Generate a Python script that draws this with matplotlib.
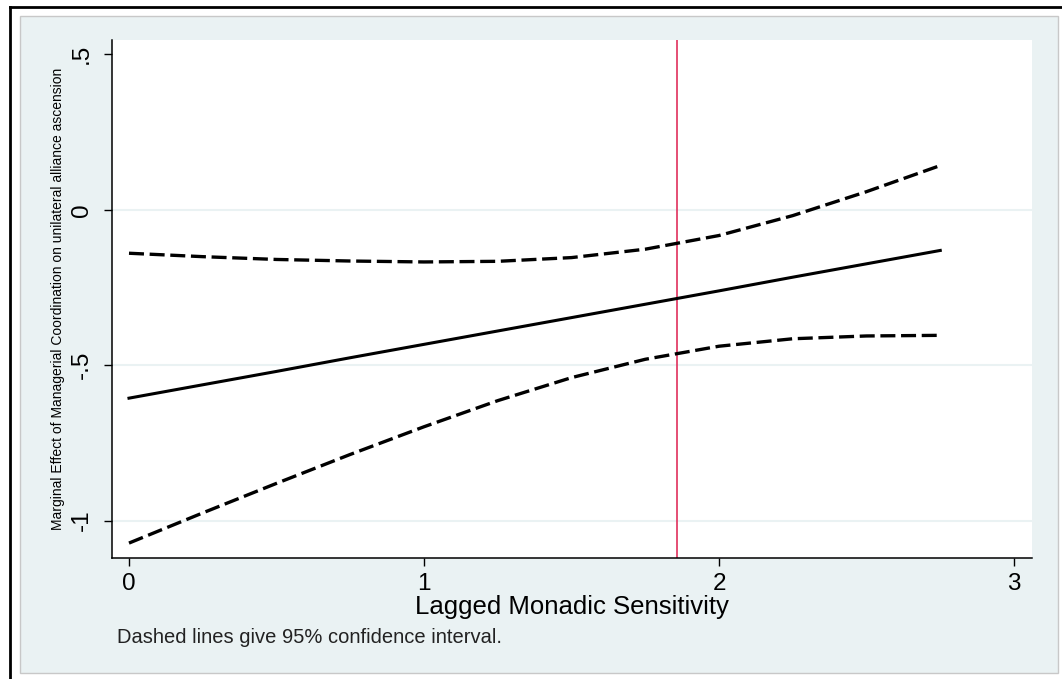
import matplotlib
matplotlib.use("Agg")
import matplotlib.pyplot as plt
from matplotlib.patches import Rectangle
from matplotlib.lines import Line2D

plt.rcParams['font.family'] = ['Liberation Sans', 'DejaVu Sans']

# values
sensitivity = [0, 0.25, 0.5, 0.75, 1.0, 1.25, 1.5, 1.75, 2.0, 2.25, 2.5, 2.75]
effect = [-0.606, -0.563, -0.520, -0.476, -0.433, -0.390, -0.347, -0.304, -0.261, -0.217, -0.174, -0.131]
upper_ci = [-0.140, -0.151, -0.160, -0.165, -0.168, -0.166, -0.154, -0.127, -0.083, -0.019, 0.058, 0.142]
lower_ci = [-1.072, -0.975, -0.880, -0.787, -0.698, -0.614, -0.540, -0.481, -0.439, -0.415, -0.406, -0.404]
mean_sensitivity = 1.858

xticks = [0, 1, 2, 3]
yticks = [0.5, 0, -0.5, -1]
ytick_labels = [".5", "0", "-.5", "-1"]

W, H = 1062, 679
bg = "#EAF2F3"

fig = plt.figure(figsize=(W / 100, H / 100), dpi=100)
fig.patch.set_facecolor("white")

# outer black frame (top and left visible)
fig.add_artist(Line2D([10 / W, 1], [1 - 7 / H, 1 - 7 / H], color="black", lw=2, zorder=-10))
fig.add_artist(Line2D([10 / W, 10 / W], [0, 1 - 7 / H], color="black", lw=2, zorder=-10))
# light stata-style background
fig.add_artist(Rectangle((20 / W, 1 - 673 / H), 1038 / W, 657 / H,
                         facecolor=bg, edgecolor="#C8C8C8", lw=1, zorder=-10))

ax = fig.add_axes([112 / W, 1 - 558 / H, 920 / W, 518 / H])
ax.set_facecolor("white")

for y in [0, -0.5, -1]:
    ax.axhline(y, color=bg, lw=1.5, zorder=1)

ax.plot(sensitivity, effect, color="black", lw=2.2, zorder=3)
ax.plot(sensitivity, upper_ci, color="black", lw=2.4, dashes=(4.5, 1.7), zorder=3)
ax.plot(sensitivity, lower_ci, color="black", lw=2.4, dashes=(4.5, 1.7), zorder=3)
ax.axvline(mean_sensitivity, color="#E0305C", lw=1.2, zorder=2)

ax.set_xlim(-0.0576, 3.061)
ax.set_ylim(-1.12, 0.5457)
ax.set_xticks(xticks)
ax.set_xticklabels([str(t) for t in xticks])
ax.set_yticks(yticks)
ax.set_yticklabels(ytick_labels, rotation=90, va="center")

for s in ["top", "right"]:
    ax.spines[s].set_visible(False)
for s in ["left", "bottom"]:
    ax.spines[s].set_linewidth(1.1)
ax.tick_params(axis="both", length=5.8, width=1.0, labelsize=17.5)
ax.tick_params(axis="x", pad=5)
ax.tick_params(axis="y", pad=8)

fig.text(58 / W, 1 - 298.5 / H, "Marginal Effect of Managerial Coordination on unilateral alliance ascension",
         rotation=90, ha="center", va="center", fontsize=10)
fig.text(572 / W, 1 - 614 / H, "Lagged Monadic Sensitivity", ha="center", va="baseline", fontsize=18.5)
fig.text(117 / W, 1 - 643 / H, "Dashed lines give 95% confidence interval.", ha="left", va="baseline",
         fontsize=14.5, color="#222222")

fig.savefig("out.png", dpi=100)
